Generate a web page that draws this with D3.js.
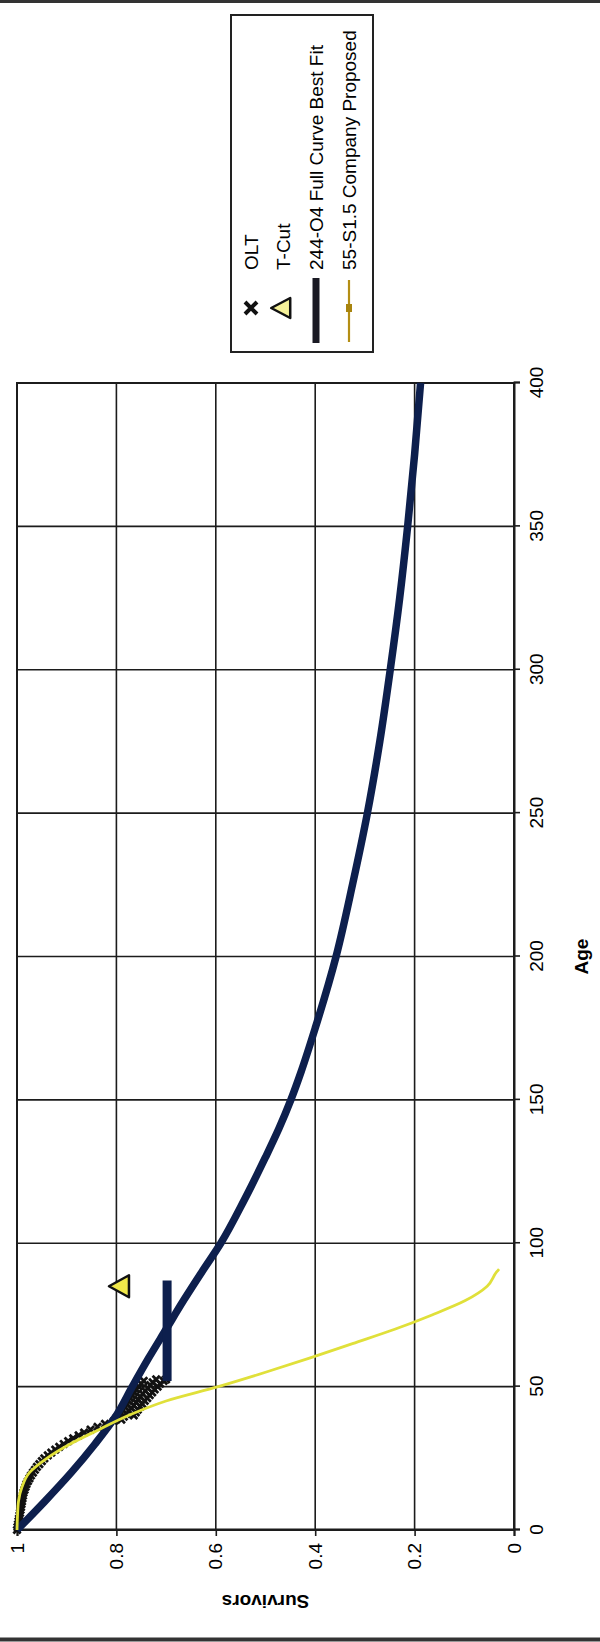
<!DOCTYPE html>
<html><head><meta charset="utf-8">
<script src="https://cdn.jsdelivr.net/npm/d3@7"></script>
<style>html,body{margin:0;padding:0;background:#fff;} svg{display:block;}</style>
</head><body>
<svg id="chart" width="600" height="1642"></svg>
<script>
// ---- data ----
const ageTicks = [0, 50, 100, 150, 200, 250, 300, 350, 400];
const survivorTicks = [0, 0.2, 0.4, 0.6, 0.8, 1];
const seriesNames = ["OLT", "T-Cut", "244-O4 Full Curve Best Fit", "55-S1.5 Company Proposed"];

const fullCurveAge  = [0, 10, 20, 30, 40, 50, 60, 70, 80, 90, 100, 115, 130, 140, 150, 160, 175, 200, 225, 250, 275, 300, 325, 350, 375, 400];
const fullCurveSurv = [1.0, 0.944, 0.891, 0.843, 0.80, 0.768, 0.735, 0.70, 0.665, 0.628, 0.59, 0.543, 0.50, 0.473, 0.449, 0.428, 0.40, 0.358, 0.325, 0.295, 0.27, 0.249, 0.23, 0.214, 0.20, 0.188];

const flatAge  = [52, 87];
const flatSurv = [0.698, 0.698];

const companyAge  = [0, 5, 10, 15, 20, 25, 30, 35, 40, 45, 50, 55, 60, 65, 70, 75, 80, 85, 90, 91];
const companySurv = [1.0, 0.999, 0.997, 0.99, 0.975, 0.94, 0.893, 0.835, 0.775, 0.70, 0.595, 0.50, 0.41, 0.325, 0.24, 0.165, 0.098, 0.054, 0.035, 0.03];

const oltAge = [0, 1, 2, 3, 4, 5, 6, 7, 8, 9, 10, 11, 12, 13, 14, 15, 16, 17, 18, 19, 20, 21, 22, 23, 24, 25, 26, 27, 28, 29, 30, 31, 32, 33, 34, 35, 36, 37,
  38, 39, 40, 41, 42, 43, 44, 45, 46, 47, 48, 49, 50, 51, 52,
  38.5, 39.5, 40.5, 41.5, 42.5, 43.5, 44.5, 45.5, 46.5, 47.5, 48.5, 49.5, 50.5, 51.5, 52.5,
  40, 41, 42, 43, 44, 45, 46, 47, 48, 49, 50, 51, 52, 52.5];
const oltSurv = [1.0, 0.999, 0.998, 0.997, 0.996, 0.995, 0.994, 0.993, 0.992, 0.991, 0.99, 0.989, 0.988, 0.987, 0.985, 0.983, 0.981, 0.978, 0.975, 0.972, 0.968, 0.964, 0.96, 0.955, 0.95, 0.945, 0.938, 0.931, 0.923, 0.915, 0.906, 0.897, 0.887, 0.876, 0.865, 0.852, 0.838, 0.823,
  0.805, 0.80, 0.795, 0.791, 0.787, 0.783, 0.78, 0.776, 0.772, 0.768, 0.764, 0.76, 0.755, 0.75, 0.745,
  0.79, 0.785, 0.78, 0.775, 0.77, 0.765, 0.76, 0.756, 0.752, 0.747, 0.742, 0.737, 0.732, 0.727, 0.72,
  0.765, 0.761, 0.757, 0.752, 0.748, 0.743, 0.738, 0.733, 0.728, 0.723, 0.717, 0.712, 0.705, 0.70];

const tCutAge = [85];
const tCutSurv = [0.79];

// ---- drawing ----
const PAGE_H = 1642;
const FONT = "'Liberation Sans', Arial, sans-serif";
const svg = d3.select("#chart");

// page frame lines
svg.append("line").attr("x1", 0).attr("x2", 600).attr("y1", 1.5).attr("y2", 1.5).attr("stroke", "#333").attr("stroke-width", 3);
svg.append("line").attr("x1", 0).attr("x2", 600).attr("y1", 1639.5).attr("y2", 1639.5).attr("stroke", "#333").attr("stroke-width", 4);

// chart drawn in its natural orientation, then rotated 90° counter-clockwise
const g = svg.append("g").attr("transform", `translate(0,${PAGE_H}) rotate(-90)`);

const x = d3.scaleLinear().domain([0, 400]).range([112, 1259]);
const y = d3.scaleLinear().domain([0, 1]).range([514, 17]);

const gridColor = "#1c1c1c";
g.append("g").selectAll("line").data(ageTicks).join("line")
  .attr("x1", d => x(d)).attr("x2", d => x(d)).attr("y1", y(1)).attr("y2", y(0))
  .attr("stroke", gridColor).attr("stroke-width", 1.6);
g.append("g").selectAll("line").data(survivorTicks).join("line")
  .attr("y1", d => y(d)).attr("y2", d => y(d)).attr("x1", x(0)).attr("x2", x(400))
  .attr("stroke", gridColor).attr("stroke-width", 1.6);
g.append("rect").attr("x", x(0)).attr("y", y(1)).attr("width", x(400) - x(0)).attr("height", y(0) - y(1))
  .attr("fill", "none").attr("stroke", gridColor).attr("stroke-width", 2);

const xAxis = g.append("g").attr("transform", `translate(0,${y(0)})`)
  .call(d3.axisBottom(x).tickValues(ageTicks).tickSize(6).tickPadding(10).tickFormat(d3.format("d")));
const yAxis = g.append("g").attr("transform", `translate(${x(0)},0)`)
  .call(d3.axisLeft(y).tickValues(survivorTicks).tickSize(6).tickPadding(7).tickFormat(d => String(d)));
[xAxis, yAxis].forEach(a => {
  a.select(".domain").attr("stroke", gridColor).attr("stroke-width", 2);
  a.selectAll(".tick line").attr("stroke", gridColor).attr("stroke-width", 1.6);
  a.selectAll("text").attr("font-family", FONT).attr("font-size", 19).attr("fill", "#000");
});

g.append("text").attr("x", (x(0) + x(400)) / 2).attr("y", 588).attr("text-anchor", "middle")
  .attr("font-family", FONT).attr("font-size", 19).attr("font-weight", "bold").text("Age");
g.append("text").attr("transform", `translate(47,${(y(0) + y(1)) / 2}) rotate(-90)`).attr("text-anchor", "middle")
  .attr("font-family", FONT).attr("font-size", 19).attr("font-weight", "bold").text("Survivors");

const navy = "#0d1f4d";
const yellow = "#e0e03a";
const line = d3.line().x(d => x(d[0])).y(d => y(d[1])).curve(d3.curveMonotoneX);
const xPath = s => `M${-s},${-s}L${s},${s}M${-s},${s}L${s},${-s}`;
const triPath = (w, h) => `M0,${-h * 0.62}L${w / 2},${h * 0.38}L${-w / 2},${h * 0.38}Z`;

// OLT
g.append("g").selectAll("path").data(oltAge.map((a, i) => [a, oltSurv[i]])).join("path")
  .attr("transform", d => `translate(${x(d[0])},${y(d[1])})`)
  .attr("d", xPath(3.6)).attr("stroke", "#121212").attr("stroke-width", 2.8).attr("fill", "none");

// T-Cut
g.append("g").selectAll("path").data(tCutAge.map((a, i) => [a, tCutSurv[i]])).join("path")
  .attr("transform", d => `translate(${x(d[0])},${y(d[1])})`)
  .attr("d", triPath(22, 20)).attr("fill", "#f0e84a").attr("stroke", "#111").attr("stroke-width", 2.5).attr("stroke-linejoin", "round");

// Full curve
g.append("path").datum(fullCurveAge.map((a, i) => [a, fullCurveSurv[i]]))
  .attr("d", line).attr("fill", "none").attr("stroke", navy).attr("stroke-width", 7.5).attr("stroke-linejoin", "round");
g.append("path").datum(flatAge.map((a, i) => [a, flatSurv[i]]))
  .attr("d", d3.line().x(d => x(d[0])).y(d => y(d[1]))).attr("fill", "none").attr("stroke", navy).attr("stroke-width", 9);

// Company proposed
g.append("path").datum(companyAge.map((a, i) => [a, companySurv[i]]))
  .attr("d", line).attr("fill", "none").attr("stroke", yellow).attr("stroke-width", 2.8);

// legend
const lg = g.append("g");
lg.append("rect").attr("x", 1290).attr("y", 231).attr("width", 337).attr("height", 142)
  .attr("fill", "#fff").attr("stroke", "#222").attr("stroke-width", 2);
const rowsV = [251, 283, 316, 349];
const symU = 1334;
lg.append("path").attr("transform", `translate(${symU},${rowsV[0]})`).attr("d", xPath(6))
  .attr("stroke", "#111").attr("stroke-width", 4).attr("fill", "none");
lg.append("path").attr("transform", `translate(${symU},${rowsV[1]})`).attr("d", triPath(20, 19))
  .attr("fill", "#f6f29a").attr("stroke", "#111").attr("stroke-width", 2.5).attr("stroke-linejoin", "round");
lg.append("line").attr("x1", 1299).attr("x2", 1364).attr("y1", rowsV[2]).attr("y2", rowsV[2])
  .attr("stroke", "#1a1a24").attr("stroke-width", 7);
lg.append("line").attr("x1", 1300).attr("x2", 1362).attr("y1", rowsV[3]).attr("y2", rowsV[3])
  .attr("stroke", "#b48e14").attr("stroke-width", 2.2);
lg.append("rect").attr("x", symU - 4).attr("y", rowsV[3] - 3).attr("width", 8).attr("height", 6).attr("fill", "#a8840e");
lg.selectAll("text.lbl").data(seriesNames).join("text").attr("class", "lbl")
  .attr("x", 1372).attr("y", (d, i) => rowsV[i]).attr("dy", "0.35em")
  .attr("font-family", FONT).attr("font-size", 19).attr("fill", "#000").text(d => d);
</script>
</body></html>
